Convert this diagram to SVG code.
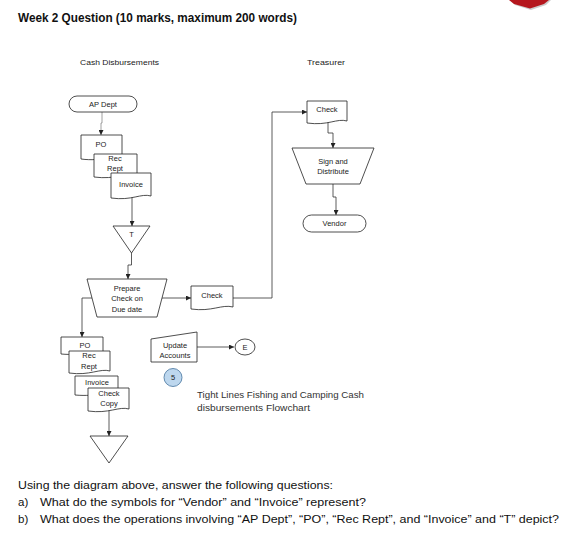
<svg xmlns="http://www.w3.org/2000/svg" width="574" height="551" viewBox="0 0 574 551">
<defs>
<marker id="ah" viewBox="0 0 6 6" refX="6" refY="3" markerWidth="5" markerHeight="5" orient="auto" markerUnits="userSpaceOnUse">
<path d="M0,0 L6,3 L0,6 Z" fill="#222"/>
</marker>
<style>
.s{fill:#fff;stroke:#222;stroke-width:0.8}
.t{font-family:"Liberation Sans",Arial,sans-serif;font-size:7.5px;fill:#222;text-anchor:middle}
.c{fill:none;stroke:#333;stroke-width:0.8;marker-end:url(#ah)}
.q{font-family:"Liberation Sans",Arial,sans-serif;font-size:11.5px;fill:#111}
</style>
</defs>
<rect width="574" height="551" fill="#fff"/>
<g id="badge">
<polygon points="510,0 551,0 546,5 531,10 515,5" fill="#999" opacity="0.5"/>
<polygon points="509,0 549,0 544,4 530,8.5 514,4" fill="#b5161d"/>
</g>
<text x="18" y="22" style="font-family:'Liberation Sans',Arial,sans-serif;font-weight:bold;font-size:12px;fill:#111" textLength="279" lengthAdjust="spacingAndGlyphs">Week 2 Question (10 marks, maximum 200 words)</text>
<text x="80" y="65" style="font-family:'Liberation Sans',Arial,sans-serif;font-size:8px;fill:#222" textLength="79" lengthAdjust="spacingAndGlyphs">Cash Disbursements</text>
<text x="307" y="65" style="font-family:'Liberation Sans',Arial,sans-serif;font-size:8px;fill:#222" textLength="38" lengthAdjust="spacingAndGlyphs">Treasurer</text>

<g id="connectors">
<polyline class="c" points="102,112 102,123 101,123 101,135" style="stroke:#888"/>
<polyline class="c" points="132,197 132,226"/>
<polyline class="c" points="131.5,253 131.5,265 128,265 128,279"/>
<polyline class="c" points="92,298 82,298 82,337"/>
<polyline class="c" points="161,298 191,298"/>
<polyline class="c" points="233,298 272,298 272,112 307,112"/>
<polyline class="c" points="328,121 328,133 333,133 333,148"/>
<polyline class="c" points="333,184 333,197 336,197 336,215"/>
<polyline class="c" points="109,410 109,436"/>
<polyline class="c" points="197,347 234,347"/>
</g>

<g id="ap-dept">
<rect class="s" x="69" y="96" width="68" height="16" rx="8"/>
<text class="t" x="103" y="106.5">AP Dept</text>
</g>
<g id="po1">
<path class="s" d="M81,135 H122 V157 C112,154 103,162 81,159 Z"/>
<text class="t" x="101" y="147">PO</text>
</g>
<g id="rec-rept1">
<path class="s" d="M94,154 H137 V175 C126,172 116,180 94,177 Z"/>
<text class="t" x="115" y="161">Rec</text>
<text class="t" x="115" y="171">Rept</text>
</g>
<g id="invoice1">
<path class="s" d="M111,173 H151 V196 C141,193 132,201 111,198 Z"/>
<text class="t" x="131" y="186.5">Invoice</text>
</g>
<g id="t-file">
<polygon class="s" points="113,226 150,226 131.5,253"/>
<text class="t" x="131.5" y="237">T</text>
</g>
<g id="prepare">
<polygon class="s" points="87,279 167,279 157,317 97,317"/>
<text class="t" x="127" y="290.5">Prepare</text>
<text class="t" x="127" y="301">Check on</text>
<text class="t" x="127" y="311.5">Due date</text>
</g>
<g id="check-mid">
<path class="s" d="M191,286 H233 V307 C222,304 212,312 191,309 Z"/>
<text class="t" x="212" y="298">Check</text>
</g>
<g id="check-treasurer">
<path class="s" d="M307,101 H347 V121 C337,118 328,126 307,123 Z"/>
<text class="t" x="327" y="112">Check</text>
</g>
<g id="sign-distribute">
<polygon class="s" points="292,148 374,148 360,184 306,184"/>
<text class="t" x="333" y="163.5">Sign and</text>
<text class="t" x="333" y="174">Distribute</text>
</g>
<g id="vendor">
<rect class="s" x="303" y="215" width="63" height="17" rx="8.5"/>
<text class="t" x="334.5" y="226">Vendor</text>
</g>
<g id="po2">
<path class="s" d="M61,337 H103 V352 C93,350 83,356 61,354 Z"/>
<text class="t" x="85" y="348">PO</text>
</g>
<g id="rec-rept2">
<path class="s" d="M69,351 H110 V371 C100,368 90,376 69,373 Z"/>
<text class="t" x="89" y="358">Rec</text>
<text class="t" x="89" y="369">Rept</text>
</g>
<g id="invoice2">
<path class="s" d="M75,376 H118 V393 C108,391 98,397 75,395 Z"/>
<text class="t" x="97" y="384.5">Invoice</text>
</g>
<g id="check-copy">
<path class="s" d="M88,388 H129 V409 C119,406 109,414 88,411 Z"/>
<text class="t" x="109" y="396">Check</text>
<text class="t" x="109" y="405.5">Copy</text>
</g>
<g id="file2">
<polygon class="s" points="90,436 128,436 109,463"/>
</g>
<g id="update-accounts">
<polygon class="s" points="151,339 197,332 197,362 151,362"/>
<text class="t" x="175" y="347.5">Update</text>
<text class="t" x="175" y="357.5">Accounts</text>
</g>
<g id="connector-e">
<ellipse class="s" cx="245" cy="347" rx="10" ry="8"/>
<text class="t" x="245" y="349.5">E</text>
</g>
<g id="page-5">
<circle cx="173" cy="377.5" r="9" fill="#bdd7ee" stroke="#41719c" stroke-width="0.8"/>
<text class="t" x="173" y="380">5</text>
</g>
<text x="197" y="398" style="font-family:'Liberation Sans',Arial,sans-serif;font-size:9.5px;fill:#333" textLength="167" lengthAdjust="spacingAndGlyphs">Tight Lines Fishing and Camping Cash</text>
<text x="197" y="411" style="font-family:'Liberation Sans',Arial,sans-serif;font-size:9.5px;fill:#333" textLength="113" lengthAdjust="spacingAndGlyphs">disbursements Flowchart</text>

<text class="q" x="18" y="489" textLength="315" lengthAdjust="spacingAndGlyphs">Using the diagram above, answer the following questions:</text>
<text class="q" x="18" y="506">a)</text>
<text class="q" x="40" y="506" textLength="326" lengthAdjust="spacingAndGlyphs">What do the symbols for “Vendor” and “Invoice” represent?</text>
<text class="q" x="18" y="523">b)</text>
<text class="q" x="40" y="523" textLength="519" lengthAdjust="spacingAndGlyphs">What does the operations involving “AP Dept”, “PO”, “Rec Rept”, and “Invoice” and “T” depict?</text>
</svg>
